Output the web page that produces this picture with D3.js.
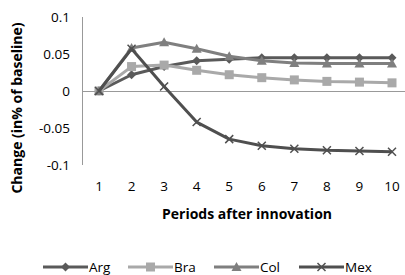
<!DOCTYPE html>
<html><head><meta charset="utf-8">
<script src="https://cdn.jsdelivr.net/npm/d3@7"></script>
<style>body{margin:0;background:#fff}svg{display:block;font-family:"Open Sans",sans-serif}</style>
</head><body><svg id="c" width="405" height="275"></svg>
<script>
const periods = [1,2,3,4,5,6,7,8,9,10];
const arg = [0, 0.022, 0.033, 0.041, 0.043, 0.045, 0.045, 0.045, 0.045, 0.045];
const bra = [0, 0.033, 0.035, 0.028, 0.022, 0.018, 0.015, 0.013, 0.012, 0.011];
const col = [0, 0.058, 0.066, 0.057, 0.047, 0.041, 0.038, 0.037, 0.037, 0.037];
const mex = [0, 0.057, 0.006, -0.042, -0.065, -0.074, -0.078, -0.080, -0.081, -0.082];
const yTicks = [-0.1, -0.05, 0, 0.05, 0.1];
const yTickLabels = ["-0.1", "-0.05", "0", "0.05", "0.1"];
const seriesNames = ["Arg", "Bra", "Col", "Mex"];
const seriesData = [arg, bra, col, mex];
const colors = ["#5a5a5a", "#a9a9a9", "#7f7f7f", "#4f4f4f"];
const markers = ["diamond", "square", "triangle", "x"];

const svg = d3.select("#c");
const x = d3.scalePoint().domain(periods).range([99, 392]);
const y = d3.scaleLinear().domain([-0.1, 0.1]).range([165, 17]);

svg.append("line").attr("x1", 82.5).attr("x2", 82.5).attr("y1", y(0.1)).attr("y2", y(-0.1)).attr("stroke", "#999").attr("stroke-width", 1);
svg.append("line").attr("x1", 82).attr("x2", 405).attr("y1", Math.round(y(0))+0.5).attr("y2", Math.round(y(0))+0.5).attr("stroke", "#999").attr("stroke-width", 1);

yTicks.forEach((t, i) => {
  svg.append("text").attr("x", 70).attr("y", y(t)).attr("dy", "0.35em").attr("text-anchor", "end")
    .attr("font-size", 13.5).attr("fill", "#000").text(yTickLabels[i]);
});
periods.forEach(p => {
  svg.append("text").attr("x", x(p)).attr("y", 186).attr("dy", "0.35em").attr("text-anchor", "middle")
    .attr("font-size", 13.5).attr("fill", "#000").text(p);
});
svg.append("text").attr("x", 247).attr("y", 214).attr("dy", "0.35em").attr("text-anchor", "middle")
  .attr("font-size", 14).attr("font-weight", "bold").text("Periods after innovation");
svg.append("text").attr("transform", "translate(17,108) rotate(-90)").attr("dy", "0.35em").attr("text-anchor", "middle")
  .attr("font-size", 14).attr("font-weight", "bold").text("Change (in% of baseline)");

function drawMarker(g, type, cx, cy, color) {
  if (type === "diamond") {
    g.append("path").attr("d", `M${cx},${cy-4.5}L${cx+4.5},${cy}L${cx},${cy+4.5}L${cx-4.5},${cy}Z`).attr("fill", color);
  } else if (type === "square") {
    g.append("rect").attr("x", cx-4.5).attr("y", cy-4.5).attr("width", 9).attr("height", 9).attr("fill", color);
  } else if (type === "triangle") {
    g.append("path").attr("d", `M${cx},${cy-5}L${cx+5},${cy+4}L${cx-5},${cy+4}Z`).attr("fill", color);
  } else {
    g.append("path").attr("d", `M${cx-4},${cy-4}L${cx+4},${cy+4}M${cx-4},${cy+4}L${cx+4},${cy-4}`).attr("stroke", color).attr("stroke-width", 1.5);
  }
}

const line = d3.line().x((d, i) => x(periods[i])).y(d => y(d));
seriesData.forEach((data, s) => {
  const g = svg.append("g");
  g.append("path").datum(data).attr("d", line).attr("fill", "none").attr("stroke", colors[s]).attr("stroke-width", 3).attr("stroke-linejoin", "round");
  data.forEach((d, i) => drawMarker(g, markers[s], x(periods[i]), y(d), colors[s]));
});

const legendX = [43, 128, 214, 299];
seriesNames.forEach((n, s) => {
  const g = svg.append("g");
  const lx = legendX[s], ly = 267;
  g.append("line").attr("x1", lx).attr("x2", lx+45).attr("y1", ly).attr("y2", ly).attr("stroke", colors[s]).attr("stroke-width", 3);
  drawMarker(g, markers[s], lx+22.5, ly, colors[s]);
  g.append("text").attr("x", lx+46).attr("y", ly).attr("dy", "0.35em").attr("font-size", 13.5).text(n);
});
</script></body></html>
